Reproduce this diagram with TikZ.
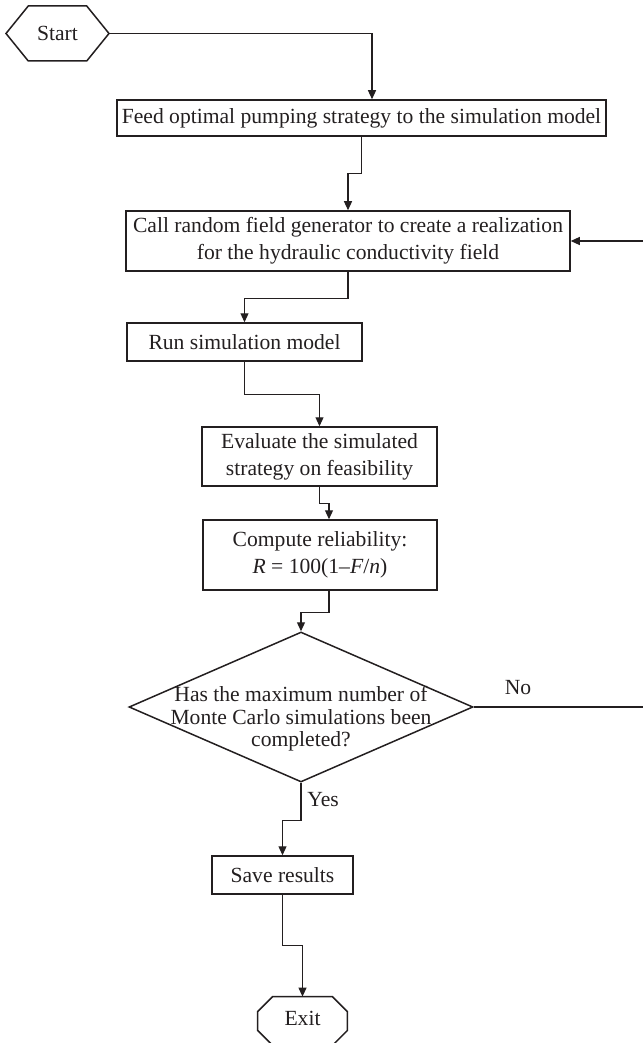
\documentclass[tikz,border=0pt]{standalone}
\usepackage{fontspec}
\setmainfont{Liberation Serif}
\usetikzlibrary{shapes.geometric,shapes.symbols,arrows.meta}
\definecolor{ink}{HTML}{231F20}
\begin{document}
\begin{tikzpicture}[x=0.5pt,y=-0.5pt,
  every node/.style={text=ink,font=\fontsize{10.8}{13.5}\selectfont},
  procbox/.style={draw=ink,line width=0.75pt,rectangle,inner sep=0pt,align=center},
  conn/.style={draw=ink,line width=0.6pt,-{Triangle[length=4.5pt,width=4pt]}},
  outline/.style={draw=ink,line width=0.75pt}]
\useasboundingbox (0,0) rectangle (642,1043);

\node[draw=ink,line width=0.75pt,signal,signal to=west and east,signal pointer angle=102,
      minimum width=51.5pt,minimum height=27.5pt,inner sep=0pt] (start) at (57.5,33.5) {Start};

\node[procbox,minimum width=244.5pt,minimum height=18pt] (b1) at (361.5,118)
  {Feed optimal pumping strategy to the simulation model};
\node[procbox,minimum width=222pt,minimum height=30pt] (b2) at (348,241)
  {Call random field generator to create a realization\\for the hydraulic conductivity field};
\node[procbox,minimum width=117.5pt,minimum height=19pt] (b3) at (244.5,342)
  {Run simulation model};
\node[procbox,minimum width=117.5pt,minimum height=29.5pt] (b4) at (319.5,456.5)
  {Evaluate the simulated\\strategy on feasibility};
\node[procbox,minimum width=117pt,minimum height=35pt] (b5) at (320,555)
  {Compute reliability:\\\textit{R} = 100(1\textendash\textit{F}/\textit{n})};

\node[draw=ink,line width=0.75pt,diamond,minimum width=172pt,minimum height=75pt,inner sep=0pt] (dec) at (301,707) {};
\node[align=center,font=\fontsize{10.8}{11.25}\selectfont] (dectext) at (301,719)
  {Has the maximum number of\\Monte Carlo simulations been\\completed?};

\node[procbox,minimum width=70.5pt,minimum height=19pt] (save) at (282.5,875) {Save results};

\node[minimum width=44.5pt,minimum height=24pt,inner sep=0pt] (exit) at (302.5,1021) {};
\draw[outline] ([xshift=7.5pt]exit.north west) -- ([xshift=-7.5pt]exit.north east)
  -- ([yshift=-7.5pt]exit.north east) -- ([yshift=7.5pt]exit.south east)
  -- ([xshift=-7.5pt]exit.south east) -- ([xshift=7.5pt]exit.south west)
  -- ([yshift=7.5pt]exit.south west) -- ([yshift=-7.5pt]exit.north west) -- cycle;
\node (exittext) at (302.5,1018) {Exit};

\coordinate (fbk) at (648,707);

\draw[conn] (start.east) -| ([xshift=5.25pt]b1.north);
\draw[conn] (b1.south) -- ++(0,37) -| (b2.north);
\draw[conn] (b2.south) -- ++(0,27) -| (b3.north);
\draw[conn] (b3.south) -- ++(0,33) -| (b4.north);
\draw[conn] (b4.south) -- ++(0,17) -| ([xshift=4.5pt]b5.north);
\draw[conn] ([xshift=4.5pt]b5.south) -- ++(0,22) -| (dec.north);
\draw[conn] (dec.south) -- ++(0,38) -| (save.north);
\draw[conn] (save.south) -- ++(0,51) -| (exit.north);
\draw[conn] (dec.east) -- (fbk) |- (b2.east);

\node (nolabel) at (518,688) {No};
\node[anchor=west,inner sep=0pt] (yeslabel) at (307,800) {Yes};
\end{tikzpicture}
\end{document}
